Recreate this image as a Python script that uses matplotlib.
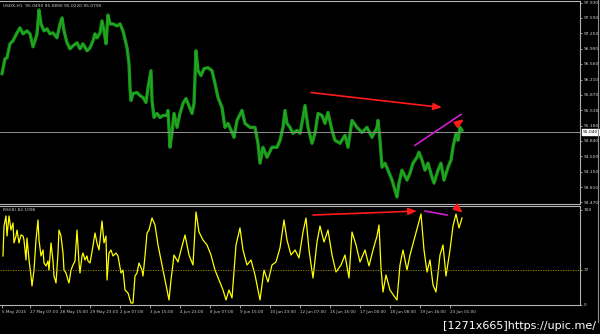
import matplotlib
matplotlib.use("Agg")
import matplotlib.pyplot as plt

# ---------------- data ----------------
price_x = [2,5,7,10,13,17,20,23,27,30,33,35,37,39,41,44,47,50,53,57,60,62,64,67,70,73,77,80,83,87,
           90,93,95,97,100,102,104,106,108,110,113,117,120,123,127,129,130,131,133,137,140,143,146,148,
           151,152,154,157,160,163,167,168,170,172,174,177,180,183,186,188,192,194,196,198,201,204,208,
           212,215,218,222,225,228,232,234,237,242,245,250,255,258,260,263,267,272,277,280,283,285,287,
           290,293,297,300,303,305,308,312,315,318,322,325,328,332,335,340,345,348,352,357,362,367,372,
           377,378,380,382,385,388,392,395,397,399,402,407,410,413,417,419,422,425,428,432,434,438,441,
           444,448,451,453,456,458,460,462]
price = [96.345,96.678,96.700,97.012,97.078,97.256,97.368,97.234,97.301,97.234,96.945,97.078,97.234,
         97.768,97.456,97.301,97.345,97.234,97.256,97.145,97.456,97.590,97.301,97.034,96.900,96.967,
         97.034,96.900,97.012,96.856,96.923,97.078,97.234,97.145,97.256,97.523,97.301,97.012,97.657,
         97.456,97.456,97.412,97.456,97.301,96.923,96.567,96.033,95.744,95.900,95.922,95.855,95.811,
         95.700,96.033,96.411,95.744,95.366,95.455,95.366,95.410,95.410,95.522,94.699,95.010,95.455,
         95.144,95.455,95.677,95.788,95.677,95.455,95.677,96.856,96.411,96.300,96.456,96.478,96.411,
         96.122,95.811,95.588,95.144,95.232,95.032,94.921,95.299,95.522,95.232,95.144,95.144,94.788,
         94.343,94.699,94.476,94.699,94.699,94.854,95.144,95.522,95.232,95.144,95.010,95.077,95.010,
         95.366,95.633,95.144,94.788,95.010,95.455,95.410,95.232,95.477,95.077,94.854,94.788,94.966,
         94.699,95.299,95.144,95.032,95.144,94.921,95.144,95.299,94.854,94.254,94.343,94.187,93.965,
         93.742,93.587,93.898,94.187,93.965,94.120,94.343,94.476,94.588,94.410,94.187,94.343,94.032,
         93.898,94.187,94.343,93.965,94.254,94.410,94.699,95.010,94.854,95.144,95.077]

rsi_x = [3,4,6,7,9,11,13,14,16,17,19,21,23,24,26,27,29,31,32,34,36,38,39,41,43,44,46,48,49,51,53,54,
         56,58,59,61,63,64,66,68,69,71,73,75,77,79,80,82,83,85,87,88,90,93,95,97,99,102,104,106,107,
         109,111,113,116,118,121,123,125,128,131,133,135,137,139,142,143,145,147,149,
         152,155,158,162,166,169,171,174,178,181,185,189,193,196,199,203,207,211,215,219,223,226,229,
         232,236,240,243,247,251,255,258,260,264,268,272,276,280,284,287,291,295,299,303,306,309,313,
         317,320,324,328,332,336,341,345,349,352,356,360,365,369,373,377,379,381,383,386,390,394,397,
         400,403,407,410,414,418,421,424,427,430,433,436,440,443,446,450,453,456,459,462]
rsi = [51.6,83.2,93.7,72.6,93.7,78.9,86.3,65.3,72.6,78.9,65.3,73.7,72.6,68.4,47.4,70.5,47.4,30.5,20.0,
       36.8,68.4,89.5,68.4,51.6,57.9,44.2,41.1,46.3,36.8,65.3,46.3,30.5,23.2,54.7,78.9,72.6,54.7,36.8,
       33.7,26.3,23.2,36.8,42.1,46.3,78.9,44.2,33.7,51.6,54.7,47.4,51.6,46.3,44.2,62.1,75.8,65.3,57.9,
       88.4,65.3,72.6,26.3,54.7,57.9,51.6,54.7,51.6,33.7,36.8,15.8,12.6,2.1,2.1,30.5,33.7,44.2,36.8,
       30.5,51.6,75.8,78.9,
       91.6,84.2,63.2,42.1,21.1,5.3,26.3,52.6,45.3,57.9,73.7,52.6,42.1,97.9,76.8,68.4,63.2,52.6,36.8,
       26.3,15.8,5.3,15.8,7.4,63.2,81.1,57.9,42.1,47.4,31.6,15.8,5.3,36.8,24.2,42.1,45.3,60.0,89.5,
       68.4,52.6,57.9,49.5,76.8,91.6,57.9,28.4,66.3,83.2,66.3,78.9,52.6,34.7,42.1,52.6,28.4,76.8,63.2,
       45.3,57.9,41.1,57.9,72.6,84.2,38.9,13.7,31.6,15.8,9.5,5.3,42.1,57.9,36.8,52.6,68.4,84.2,95.8,
       57.9,34.7,47.4,21.1,13.7,52.6,63.2,30.5,57.9,83.2,95.8,81.1,91.6]

price_ticks = [97.930, 97.590, 97.250, 96.900, 96.560, 96.210, 95.870, 95.530, 95.180,
               94.840, 94.500, 94.150, 93.810, 93.470]
last_price = 95.040
rsi_level = 37
rsi_ticks = [0, 37, 100]

time_pos = [2, 30, 60, 90, 120, 150, 180, 210, 240, 270, 300, 330, 360, 390, 420, 450]
time_labels = ["5 May 2015", "27 May 07:00", "28 May 15:00", "29 May 23:00", "2 Jun 07:00",
               "3 Jun 15:00", "4 Jun 23:00", "8 Jun 07:00", "9 Jun 15:00", "10 Jun 23:00",
               "12 Jun 07:00", "15 Jun 16:00", "17 Jun 00:00", "18 Jun 08:00", "19 Jun 16:00",
               "23 Jun 01:00"]

# annotation lines: (x0, y0, x1, y1)
price_red_arrow = (311, 95.922, 442, 95.588)
price_purple = (415, 94.743, 461, 95.433)
price_red_small = (456, 95.200, 464, 95.330)
rsi_red_arrow = (313, 94.7, 417, 98.9)
rsi_purple = (425, 98.9, 447, 94.7)
rsi_red_small = (457, 102.0, 463, 97.0)

# ---------------- figure ----------------
W, H = 600, 334
fig = plt.figure(figsize=(6, 3.34), dpi=100, facecolor="black")
ax1 = fig.add_axes([0, 1 - 204 / H, 580 / W, 203 / H], facecolor="black")
ax2 = fig.add_axes([0, 1 - 305 / H, 580 / W, 99 / H], facecolor="black")

grey = "#b4b4b4"
txt = "#d0d0d0"
for ax in (ax1, ax2):
    ax.set_xlim(0, 580)
    ax.spines["left"].set_visible(False)
    for s in ("top", "right", "bottom"):
        ax.spines[s].set_color(grey)
        ax.spines[s].set_linewidth(0.8)
    ax.yaxis.tick_right()
    ax.tick_params(axis="y", colors=grey, labelcolor=txt, labelsize=3.2, length=1.5,
                   width=0.6, pad=1.0, direction="out")

# price panel
ax1.set_ylim(93.431, 97.968)
ax1.plot(price_x, price, color="#1a931a", lw=2.4)
ax1.plot(price_x, price, color="#22b022", lw=0.7)
ax1.axhline(last_price, color="#909090", lw=0.7)
ax1.set_yticks(price_ticks)
ax1.set_yticklabels([f"{v:.3f}" for v in price_ticks])
ax1.set_xticks([])
ax1.text(582.5, last_price, f"{last_price:.3f}", fontsize=3.2, color="black", va="center",
         ha="left", transform=ax1.transData, clip_on=False,
         bbox=dict(boxstyle="square,pad=0.2", fc="white", ec="white"))
ax1.text(3, 97.85, "USDX,H1  95.0490 95.0890 95.0220 95.0790", fontsize=3.2, color=txt,
         va="center", ha="left")

def arrow(ax, seg, color, lw, head=True):
    x0, y0, x1, y1 = seg
    if head:
        ax.annotate("", xy=(x1, y1), xytext=(x0, y0),
                    arrowprops=dict(arrowstyle="-|>,head_length=0.5,head_width=0.2",
                                    color=color, lw=lw, shrinkA=0, shrinkB=0))
    else:
        ax.plot([x0, x1], [y0, y1], color=color, lw=lw)

arrow(ax1, price_red_arrow, "#ff1a1a", 1.2)
arrow(ax1, price_purple, "#d020d0", 1.2, head=False)
arrow(ax1, price_red_small, "#ff1a1a", 1.5)

# RSI panel
ax2.set_ylim(0, 104.2)
ax2.plot(rsi_x, rsi, color="#ffff00", lw=0.9)
ax2.axhline(rsi_level, color="#a09000", lw=0.6, ls=(0, (1.5, 1.5)))
ax2.set_yticks(rsi_ticks)
ax2.set_yticklabels([str(v) for v in rsi_ticks])
ax2.text(3, 99.5, "RSI(8) 82.1096", fontsize=3.2, color=txt, va="center", ha="left")
arrow(ax2, rsi_red_arrow, "#ff1a1a", 1.2)
arrow(ax2, rsi_purple, "#d020d0", 1.2, head=False)
arrow(ax2, rsi_red_small, "#ff1a1a", 1.5)

ax2.set_xticks(time_pos)
ax2.set_xticklabels(time_labels, ha="left")
ax2.tick_params(axis="x", colors=grey, labelcolor=txt, labelsize=3.0, length=2.0,
                width=0.6, pad=1.5)

# outer right border line and watermark
fig.add_artist(plt.Line2D([598 / W, 598 / W], [1, 1 - 322 / H], color="#909090", lw=0.8))
fig.text(596 / W, 1 - 326 / H, "[1271x665]https://upic.me/", color="white", fontsize=8.0,
         ha="right", va="center")

fig.savefig("out.png", dpi=100, facecolor="black")
